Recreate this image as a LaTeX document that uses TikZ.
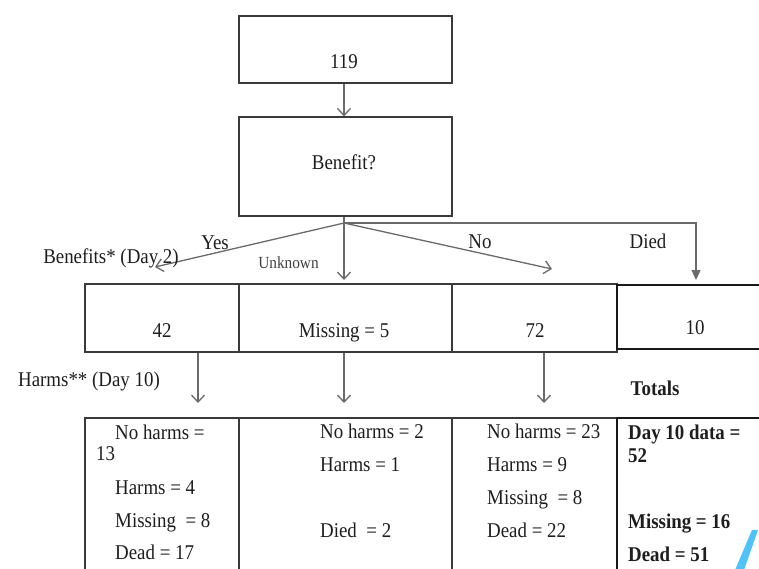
\documentclass[tikz,border=0pt]{standalone}
\usepackage{fontspec}
\setmainfont{Liberation Serif}[FakeStretch=0.9]
\usetikzlibrary{arrows.meta}
\definecolor{boxc}{HTML}{3A3A3A}
\definecolor{arrc}{HTML}{6A6A6A}
\definecolor{txtc}{HTML}{1E1E1E}
\definecolor{blu}{HTML}{4FC3F7}
\begin{document}
\begin{tikzpicture}[x=1pt,y=-1pt,
  box/.style={draw=boxc, line width=1.3pt, inner sep=0pt},
  boxthick/.style={draw=black!90, line width=2pt, inner sep=0pt},
  arr/.style={draw=arrc, line width=1.3pt, -{Straight Barb[length=7pt,width=13pt,line width=1.3pt]}},
  arrfill/.style={draw=arrc, line width=1.3pt, -{Triangle[length=10pt,width=9pt]}},
  lbl/.style={inner sep=0pt, text=txtc, font=\fontsize{21}{24}\selectfont, anchor=base},
  lblw/.style={inner sep=0pt, text=txtc, font=\fontsize{21}{24}\selectfont, anchor=base west},
  lblb/.style={inner sep=0pt, text=txtc, font=\fontsize{21}{24}\selectfont\bfseries, anchor=base west},
  small/.style={inner sep=0pt, text=txtc!85, font=\fontsize{17}{20}\selectfont, anchor=base}]
\useasboundingbox (0,0) rectangle (759,568);
\fill[white] (0,0) rectangle (759,568);
\begin{scope}
\clip (0,0) rectangle (759,568);
% top boxes
\node[box, minimum width=213pt, minimum height=67pt] (top) at (345.5,49.5) {};
\node[box, minimum width=213pt, minimum height=99pt] (ben) at (345.5,166.5) {};
\node[lbl] (t119) at (344,68) {119};
\node[lbl] (tben) at (344,169) {Benefit?};
\draw[arr] (top.south -| t119) -- (ben.north -| t119);
% branch
\coordinate (br) at (344,223);
\coordinate (yesT) at (155,267);
\coordinate (unkT) at (344,280);
\coordinate (noT) at (552,269);
\coordinate (corner) at (696,223);
\coordinate (diedT) at (696,280);
\draw[draw=arrc, line width=1.3pt] (ben.south -| br) -- (br);
\draw[arr] (br) -- (yesT);
\draw[arr] (br) -- (unkT);
\draw[arr] (br) -- (noT);
\draw[arrfill] (br) -- (corner) -- (diedT);
\node[lbl] (yes) at (215,249) {Yes};
\node[lbl] (benlbl) at (111,263) {Benefits* (Day 2)};
\node[small] (unk) at (288.5,268) {Unknown};
\node[lbl] (no) at (480,248) {No};
\node[lbl] (died) at (648,248) {Died};
% middle row
\node[box, minimum width=154pt, minimum height=68pt] (m1) at (162,318) {};
\node[box, minimum width=213pt, minimum height=68pt] (m2) at (345.5,318) {};
\node[box, minimum width=165pt, minimum height=68pt] (m3) at (534.5,318) {};
\node[boxthick, minimum width=160pt, minimum height=64pt] (m4) at (697,317) {};
\node[lbl] (n42) at (162,337) {42};
\node[lbl] (nmiss) at (344,337) {Missing = 5};
\node[lbl] (n72) at (535,337) {72};
\node[lbl] (n10) at (695,334) {10};
\coordinate (a1) at (198,403);
\coordinate (a2) at (344,403);
\coordinate (a3) at (544,403);
\draw[arr] (m1.south -| a1) -- (a1);
\draw[arr] (m2.south -| a2) -- (a2);
\draw[arr] (m3.south -| a3) -- (a3);
\node[lbl] (harms) at (89,386) {Harms** (Day 10)};
\node[lbl, font=\fontsize{21}{24}\selectfont\bfseries] (totals) at (655,395) {Totals};
% bottom row
\node[box, minimum width=154pt, minimum height=170pt] (b1) at (162,503) {};
\node[box, minimum width=213pt, minimum height=170pt] (b2) at (345.5,503) {};
\node[box, minimum width=165pt, minimum height=170pt] (b3) at (534.5,503) {};
\node[boxthick, minimum width=160pt, minimum height=170pt] (b4) at (697,503) {};
\node[lblw] (b1a) at (115,439) {No harms =};
\node[lblw] (b1b) at (96,460) {13};
\node[lblw] (b1c) at (115,494) {Harms = 4};
\node[lblw] (b1d) at (115,527) {Missing \ = 8};
\node[lblw] (b1e) at (115,559) {Dead = 17};
\node[lblw] (b2a) at (320,438) {No harms = 2};
\node[lblw] (b2b) at (320,471) {Harms = 1};
\node[lblw] (b2c) at (320,537) {Died \ = 2};
\node[lblw] (b3a) at (487,438) {No harms = 23};
\node[lblw] (b3b) at (487,471) {Harms = 9};
\node[lblw] (b3c) at (487,504) {Missing \ = 8};
\node[lblw] (b3d) at (487,537) {Dead = 22};
\node[lblb] (b4a) at (628,439) {Day 10 data =};
\node[lblb] (b4b) at (628,462) {52};
\node[lblb] (b4c) at (628,528) {Missing = 16};
\node[lblb] (b4d) at (628,561) {Dead = 51};
% stray mark
\fill[blu] (752,530) -- (758,530) -- (744,570) -- (735,570) -- cycle;
\end{scope}
\end{tikzpicture}
\end{document}
